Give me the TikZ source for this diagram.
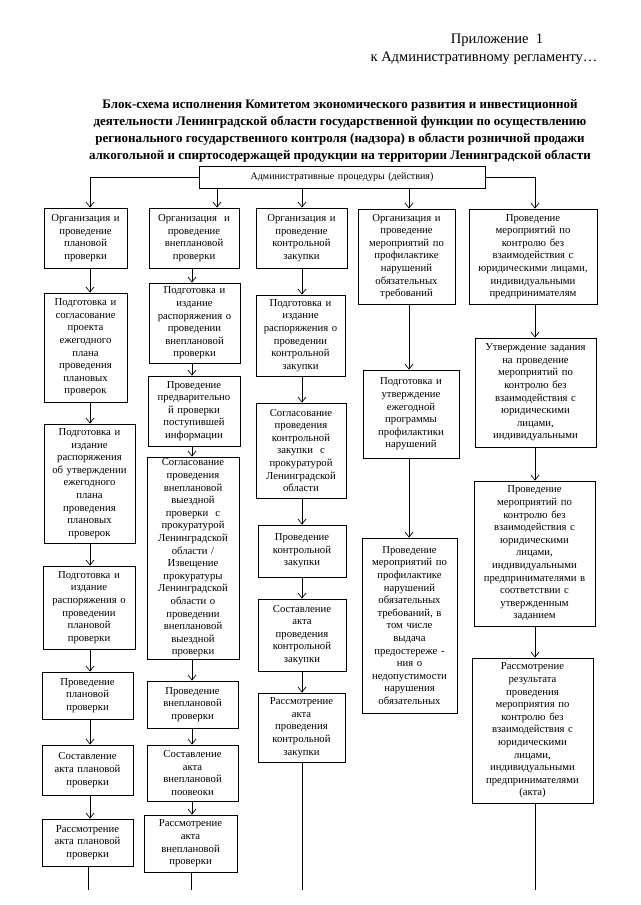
\documentclass[tikz,border=0pt]{standalone}
\usepackage{fontspec}
\setmainfont{Liberation Serif}
\usetikzlibrary{arrows.meta}
\newcommand\mkbox[6]{%
  \pgfmathsetmacro\bxw{#4-#2}\pgfmathsetmacro\bxh{#5-#3}%
  \pgfmathsetmacro\bxtw{#4-#2-6}%
  \pgfmathsetmacro\bxcx{(#2+#4)/2}\pgfmathsetmacro\bxcy{-(#3+#5)/2}%
  \node[box, minimum width=\bxw pt, minimum height=\bxh pt, text width=\bxtw pt] (#1) at (\bxcx,\bxcy) {#6};}
\begin{document}
\begin{tikzpicture}[x=1pt,y=1pt,
  box/.style={draw, line width=0.8pt, align=center, inner xsep=3pt, inner ysep=1pt,
    font=\fontsize{10.7}{12.6}\selectfont},
  arr/.style={draw, line width=0.7pt, -{Straight Barb[length=5pt,width=8pt]}},
  ln/.style={draw, line width=0.7pt}]
\useasboundingbox (0,0) rectangle (640,-905);
% header
\node[font=\fontsize{14.5}{16}\selectfont] (h1) at (497,-40) {Приложение\ \ 1};
\node[font=\fontsize{14.5}{16}\selectfont] (h2) at (484,-58) {к Административному регламенту…};
\node[font=\bfseries\fontsize{13}{17}\selectfont, align=center] (ttl) at (340,-130.5)
 {Блок-схема исполнения Комитетом экономического развития и инвестиционной\\
  деятельности Ленинградской области государственной функции по осуществлению\\
  регионального государственного контроля (надзора) в области розничной продажи\\
  алкогольной и спиртосодержащей продукции на территории Ленинградской области};
% column axes
\coordinate (k1) at (90,0);
\coordinate (k2t) at (217,0);
\coordinate (k2) at (192,0);
\coordinate (k3) at (302,0);
\coordinate (k4) at (409,0);
\coordinate (k5) at (535,0);
% top box
\mkbox{top}{199}{166}{485}{188}{\fontsize{10}{11}\selectfont Административные процедуры (действия)}
% column 1
\mkbox{a1}{44}{208}{127}{268}{Организация и\\проведение\\плановой\\проверки}
\mkbox{a2}{44}{293}{127}{402}{Подготовка и\\согласование\\проекта\\ежегодного\\плана\\проведения\\плановых\\проверок}
\mkbox{a3}{44}{424}{135}{543}{Подготовка и\\издание\\распоряжения\\об утверждении\\ежегодного\\плана\\проведения\\плановых\\проверок}
\mkbox{a4}{43}{566}{135}{649}{Подготовка и\\издание\\распоряжения о\\проведении\\плановой\\проверки}
\mkbox{a5}{42}{672}{133}{719}{Проведение\\плановой\\проверки}
\mkbox{a6}{42}{745}{133}{795}{Составление\\акта плановой\\проверки}
\mkbox{a7}{42}{819}{133}{866}{Рассмотрение\\акта плановой\\проверки}
% column 2
\mkbox{b1}{149}{208}{239}{268}{Организация\ \ и\\проведение\\внеплановой\\проверки}
\mkbox{b2}{149}{283}{240}{363}{Подготовка и\\издание\\распоряжения о\\проведении\\внеплановой\\проверки}
\mkbox{b3}{148}{376}{240}{446}{Проведение\\предварительно\\й проверки\\поступившей\\информации}
\mkbox{b4}{147}{457}{239}{659}{Согласование\\проведения\\внеплановой\\выездной\\проверки\ \ с\\прокуратурой\\Ленинградской\\области /\\Извещение\\прокуратуры\\Ленинградской\\области о\\проведении\\внеплановой\\выездной\\проверки}
\mkbox{b5}{147}{681}{238}{728}{Проведение\\внеплановой\\проверки}
\mkbox{b6}{147}{745}{238}{801}{Составление\\акта\\внеплановой\\поовеоки}
\mkbox{b7}{144}{815}{237}{872}{Рассмотрение\\акта\\внеплановой\\проверки}
% column 3
\mkbox{c1}{256}{208}{347}{268}{Организация и\\проведение\\контрольной\\закупки}
\mkbox{c2}{256}{295}{345}{376}{Подготовка и\\издание\\распоряжения о\\проведении\\контрольной\\закупки}
\mkbox{c3}{256}{403}{346}{498}{Согласование\\проведения\\контрольной\\закупки\ \ с\\прокуратурой\\Ленинградской\\области}
\mkbox{c4}{258}{525}{346}{577}{Проведение\\контрольной\\закупки}
\mkbox{c5}{258}{599}{346}{671}{Составление\\акта\\проведения\\контрольной\\закупки}
\mkbox{c6}{258}{693}{345}{762}{Рассмотрение\\акта\\проведения\\контрольной\\закупки}
% column 4
\mkbox{d1}{358}{209}{455}{304}{Организация и\\проведение\\мероприятий по\\профилактике\\нарушений\\обязательных\\требований}
\mkbox{d2}{363}{370}{459}{458}{Подготовка и\\утверждение\\ежегодной\\программы\\профилактики\\нарушений}
\mkbox{d3}{362}{538}{457}{713}{Проведение\\мероприятий по\\профилактике\\нарушений\\обязательных\\требований, в\\том числе\\выдача\\предостереже -\\ния о\\недопустимости\\нарушения\\обязательных}
% column 5
\mkbox{e1}{469}{209}{597}{304}{Проведение\\мероприятий по\\контролю без\\взаимодействия с\\юридическими лицами,\\индивидуальными\\предпринимателям}
\mkbox{e2}{475}{338}{596}{447}{Утверждение задания\\на проведение\\мероприятий по\\контролю без\\взаимодействия с\\юридическими\\лицами,\\индивидуальными}
\mkbox{e3}{474}{481}{595}{626}{Проведение\\мероприятий по\\контролю без\\взаимодействия с\\юридическими\\лицами,\\индивидуальными\\предпринимателями в\\соответствии с\\утвержденным\\заданием}
\mkbox{e4}{472}{658}{593}{803}{Рассмотрение\\результата\\проведения\\мероприятия по\\контролю без\\взаимодействия с\\юридическими\\лицами,\\индивидуальными\\предпринимателями\\(акта)}
% free ends
\coordinate (z1) at (88,-890);
\coordinate (z2) at (191,-890);
\coordinate (z3) at (302,-890);
\coordinate (z5) at (535,-890);
% connectors from top box
\draw[arr] (top.west) -| (a1.north -| k1);
\draw[arr] (top.south -| k2t) -- (b1.north -| k2t);
\draw[arr] (top.south -| k3) -- (c1.north -| k3);
\draw[arr] (top.south -| k4) -- (d1.north -| k4);
\draw[arr] (top.east) -| (e1.north -| k5);
% column 1
\draw[arr] (a1.south -| k1) -- (a2.north -| k1);
\draw[arr] (a2.south -| k1) -- (a3.north -| k1);
\draw[arr] (a3.south -| k1) -- (a4.north -| k1);
\draw[arr] (a4.south -| k1) -- (a5.north -| k1);
\draw[arr] (a5.south -| k1) -- (a6.north -| k1);
\draw[arr] (a6.south -| k1) -- (a7.north -| k1);
\draw[ln] (a7.south -| z1) -- (z1);
% column 2
\draw[arr] (b1.south -| k2) -- (b2.north -| k2);
\draw[arr] (b2.south -| k2) -- (b3.north -| k2);
\draw[arr] (b3.south -| k2) -- (b4.north -| k2);
\draw[arr] (b4.south -| k2) -- (b5.north -| k2);
\draw[arr] (b5.south -| k2) -- (b6.north -| k2);
\draw[arr] (b6.south -| k2) -- (b7.north -| k2);
\draw[ln] (b7.south -| z2) -- (z2);
% column 3
\draw[arr] (c1.south -| k3) -- (c2.north -| k3);
\draw[arr] (c2.south -| k3) -- (c3.north -| k3);
\draw[arr] (c3.south -| k3) -- (c4.north -| k3);
\draw[arr] (c4.south -| k3) -- (c5.north -| k3);
\draw[arr] (c5.south -| k3) -- (c6.north -| k3);
\draw[ln] (c6.south -| z3) -- (z3);
% column 4
\draw[arr] (d1.south -| k4) -- (d2.north -| k4);
\draw[arr] (d2.south -| k4) -- (d3.north -| k4);
% column 5
\draw[arr] (e1.south -| k5) -- (e2.north -| k5);
\draw[arr] (e2.south -| k5) -- (e3.north -| k5);
\draw[arr] (e3.south -| k5) -- (e4.north -| k5);
\draw[ln] (e4.south -| z5) -- (z5);
\end{tikzpicture}
\end{document}
